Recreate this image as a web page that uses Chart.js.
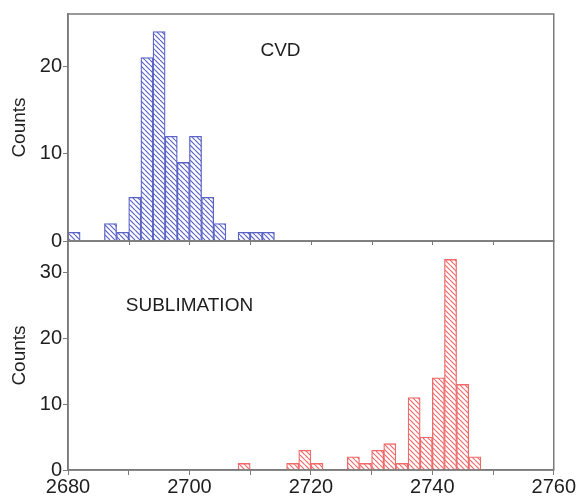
<!DOCTYPE html>
<html>
<head>
<meta charset="utf-8">
<script src="https://cdn.jsdelivr.net/npm/chart.js@4/dist/chart.umd.min.js"></script>
<style>
html,body{margin:0;padding:0;background:#fff;}
#wrap{width:576px;height:498px;}
</style>
</head>
<body>
<div id="wrap"><canvas id="grafico" width="576" height="498"></canvas></div>
<script>
// bin centres (bins are 2 wide) and counts
const binsCvd=[2681,2687,2689,2691,2693,2695,2697,2699,2701,2703,2705,2709,2711,2713];
const countsCvd=[1,2,1,5,21,24,12,9,12,5,2,1,1,1];

const binsSub=[2709,2717,2719,2721,2727,2729,2731,2733,2735,2737,2739,2741,2743,2745,2747];
const countsSub=[1,1,3,1,2,1,3,4,1,11,5,14,32,13,2];

const xTicks=[2680,2700,2720,2740,2760];

const azul="#5b63c6";
const vermelho="#f06a6a";
const eixo="#7a7a7a";
const texto="#1e1e1e";
const fonte="'Liberation Sans', Arial, sans-serif";

function hachura(cor){
let s=5;
let c=document.createElement("canvas");
c.width=s;c.height=s;
let g=c.getContext("2d");
g.fillStyle="#fff";
g.fillRect(0,0,s,s);
g.strokeStyle=cor;
g.lineWidth=1.2;
for(let k=-1;k<=1;k++){
g.beginPath();
g.moveTo(k*s,0);
g.lineTo(k*s+s,s);
g.stroke();
}
return g.createPattern(c,"repeat");
}

const ctx=document.getElementById("grafico").getContext("2d");

const molduras={
id:"molduras",
afterDatasetsDraw(chart){
let c=chart.ctx;
let x=chart.scales.x;
c.save();
c.strokeStyle=eixo;
c.lineWidth=1.5;
["yTop","yBot"].forEach(id=>{
let s=chart.scales[id];
c.strokeRect(x.left,s.top,x.right-x.left,s.bottom-s.top);
});
// small ticks on the shared line
let yb=chart.scales.yBot.top;
c.lineWidth=1;
for(let v=2690;v<2760;v+=10){
let px=Math.round(x.getPixelForValue(v))+0.5;
c.beginPath();
c.moveTo(px,yb);
c.lineTo(px,yb+4);
c.stroke();
}
// labels
c.fillStyle=texto;
c.font="19px "+fonte;
c.textAlign="center";
c.textBaseline="middle";
c.fillText("CVD",x.getPixelForValue(2715),chart.scales.yTop.getPixelForValue(21.8));
c.fillText("SUBLIMATION",x.getPixelForValue(2700),chart.scales.yBot.getPixelForValue(25));
c.restore();
}
};

function eixoY(max,peso,ordem){
return{
type:"linear",
position:"left",
stack:"paineis",
stackWeight:peso,
weight:ordem,
min:0,
max:max,
afterFit(s){s.width=68;},
border:{display:true,color:eixo,width:1.5},
grid:{drawOnChartArea:false,color:eixo,tickLength:5,lineWidth:1},
ticks:{
stepSize:5,
includeBounds:false,
padding:1,
color:texto,
font:{family:fonte,size:20},
callback:v=>v%10===0?v:""
},
title:{
display:true,
text:"Counts",
color:texto,
font:{family:fonte,size:19},
padding:{top:8,bottom:0}
}
};
}

new Chart(ctx,{
type:"bar",
data:{
datasets:[
{
label:"CVD",
data:binsCvd.map((b,i)=>({x:b,y:countsCvd[i]})),
yAxisID:"yTop",
backgroundColor:hachura(azul),
borderColor:azul,
borderWidth:1.3
},
{
label:"SUBLIMATION",
data:binsSub.map((b,i)=>({x:b,y:countsSub[i]})),
yAxisID:"yBot",
backgroundColor:hachura(vermelho),
borderColor:vermelho,
borderWidth:1.3
}
]
},
options:{
responsive:false,
animation:false,
devicePixelRatio:1,
grouped:false,
barPercentage:1,
categoryPercentage:1,
layout:{padding:{top:14,right:22,left:0,bottom:0}},
plugins:{legend:{display:false},tooltip:{enabled:false}},
scales:{
x:{
type:"linear",
offset:false,
min:2680,
max:2760,
afterFit(s){s.height=28;},
border:{display:true,color:eixo,width:1.5},
grid:{drawOnChartArea:false,color:eixo,tickLength:5,offset:false},
ticks:{
stepSize:10,
padding:0,
maxRotation:0,
autoSkip:false,
color:texto,
font:{family:fonte,size:20},
callback:v=>xTicks.includes(v)?v:""
}
},
yBot:eixoY(34.8,229,1),
yTop:eixoY(26,227,2)
}
},
plugins:[molduras]
});
</script>
</body>
</html>
